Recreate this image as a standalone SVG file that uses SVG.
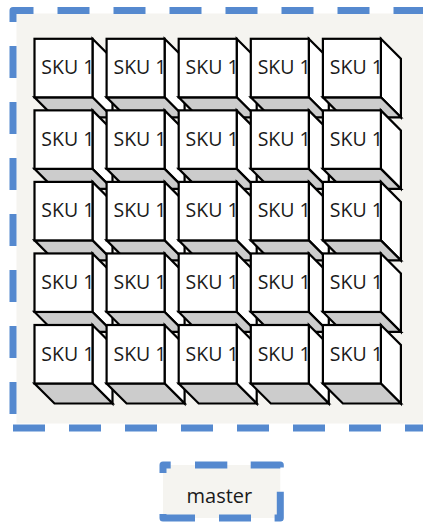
<svg xmlns="http://www.w3.org/2000/svg" xmlns:xlink="http://www.w3.org/1999/xlink" width="423" height="523" viewBox="0 0 423 523">
  <style>
    .frame-fill { fill: #f5f4f0; stroke: none; }
    .dash { fill: none; stroke: #5589cf; stroke-width: 7; stroke-linejoin: round; }
    .face { fill: #ffffff; stroke: #000000; stroke-width: 2.2; stroke-linejoin: miter; }
    .shade { fill: #cccccc; stroke: #000000; stroke-width: 2.2; stroke-linejoin: miter; }
    .label { font-family: "Open Sans", "Liberation Sans", sans-serif; font-size: 19.5px; fill: #1a1a1a; text-anchor: middle; }
    .master-label { font-family: "Open Sans", "Liberation Sans", sans-serif; font-size: 20px; fill: #1a1a1a; text-anchor: middle; }
  </style>
  <defs>
    <g id="cube">
      <polygon class="face" points="58,0 78,20 78,78.5 58,58.5"/>
      <polygon class="shade" points="0,58.5 58,58.5 78,78.5 20,78.5"/>
      <rect class="face" x="0" y="0" width="58" height="58.5"/>
    </g>
  </defs>

  <g id="frame">
    <rect class="frame-fill" x="16.5" y="13.5" width="420" height="410"/>
    <path class="dash" d="M13,428 V10.5 H431 V428" stroke-dasharray="32 24" stroke-dashoffset="42"/>
    <path class="dash" d="M13,428 H431" stroke-dasharray="32 24"/>
  </g>

  <g id="skus">
    <g id="sku-r1c1" transform="translate(34.5,38.8)"><use xlink:href="#cube"/><text class="label" x="33.4" y="35.5">SKU 1</text></g>
    <g id="sku-r1c2" transform="translate(106.6,38.8)"><use xlink:href="#cube"/><text class="label" x="33.4" y="35.5">SKU 1</text></g>
    <g id="sku-r1c3" transform="translate(178.7,38.8)"><use xlink:href="#cube"/><text class="label" x="33.4" y="35.5">SKU 1</text></g>
    <g id="sku-r1c4" transform="translate(250.8,38.8)"><use xlink:href="#cube"/><text class="label" x="33.4" y="35.5">SKU 1</text></g>
    <g id="sku-r1c5" transform="translate(322.9,38.8)"><use xlink:href="#cube"/><text class="label" x="33.4" y="35.5">SKU 1</text></g>

    <g id="sku-r2c1" transform="translate(34.5,110.35)"><use xlink:href="#cube"/><text class="label" x="33.4" y="35.5">SKU 1</text></g>
    <g id="sku-r2c2" transform="translate(106.6,110.35)"><use xlink:href="#cube"/><text class="label" x="33.4" y="35.5">SKU 1</text></g>
    <g id="sku-r2c3" transform="translate(178.7,110.35)"><use xlink:href="#cube"/><text class="label" x="33.4" y="35.5">SKU 1</text></g>
    <g id="sku-r2c4" transform="translate(250.8,110.35)"><use xlink:href="#cube"/><text class="label" x="33.4" y="35.5">SKU 1</text></g>
    <g id="sku-r2c5" transform="translate(322.9,110.35)"><use xlink:href="#cube"/><text class="label" x="33.4" y="35.5">SKU 1</text></g>

    <g id="sku-r3c1" transform="translate(34.5,181.9)"><use xlink:href="#cube"/><text class="label" x="33.4" y="35.5">SKU 1</text></g>
    <g id="sku-r3c2" transform="translate(106.6,181.9)"><use xlink:href="#cube"/><text class="label" x="33.4" y="35.5">SKU 1</text></g>
    <g id="sku-r3c3" transform="translate(178.7,181.9)"><use xlink:href="#cube"/><text class="label" x="33.4" y="35.5">SKU 1</text></g>
    <g id="sku-r3c4" transform="translate(250.8,181.9)"><use xlink:href="#cube"/><text class="label" x="33.4" y="35.5">SKU 1</text></g>
    <g id="sku-r3c5" transform="translate(322.9,181.9)"><use xlink:href="#cube"/><text class="label" x="33.4" y="35.5">SKU 1</text></g>

    <g id="sku-r4c1" transform="translate(34.5,253.45)"><use xlink:href="#cube"/><text class="label" x="33.4" y="35.5">SKU 1</text></g>
    <g id="sku-r4c2" transform="translate(106.6,253.45)"><use xlink:href="#cube"/><text class="label" x="33.4" y="35.5">SKU 1</text></g>
    <g id="sku-r4c3" transform="translate(178.7,253.45)"><use xlink:href="#cube"/><text class="label" x="33.4" y="35.5">SKU 1</text></g>
    <g id="sku-r4c4" transform="translate(250.8,253.45)"><use xlink:href="#cube"/><text class="label" x="33.4" y="35.5">SKU 1</text></g>
    <g id="sku-r4c5" transform="translate(322.9,253.45)"><use xlink:href="#cube"/><text class="label" x="33.4" y="35.5">SKU 1</text></g>

    <g id="sku-r5c1" transform="translate(34.5,325)"><use xlink:href="#cube"/><text class="label" x="33.4" y="35.5">SKU 1</text></g>
    <g id="sku-r5c2" transform="translate(106.6,325)"><use xlink:href="#cube"/><text class="label" x="33.4" y="35.5">SKU 1</text></g>
    <g id="sku-r5c3" transform="translate(178.7,325)"><use xlink:href="#cube"/><text class="label" x="33.4" y="35.5">SKU 1</text></g>
    <g id="sku-r5c4" transform="translate(250.8,325)"><use xlink:href="#cube"/><text class="label" x="33.4" y="35.5">SKU 1</text></g>
    <g id="sku-r5c5" transform="translate(322.9,325)"><use xlink:href="#cube"/><text class="label" x="33.4" y="35.5">SKU 1</text></g>
  </g>

  <g id="master">
    <rect class="frame-fill" x="163" y="465" width="117.3" height="53" rx="3"/>
    <path class="dash" d="M183,465 H280.3 V518 H163 V465 Z" stroke-dasharray="0 12 32.3 23.4 32 24.3 32 23.6 32 24 36 41 15.7 12.3"/>
    <text class="master-label" x="219.4" y="503">master</text>
  </g>

  <g id="connectors"/>
</svg>
